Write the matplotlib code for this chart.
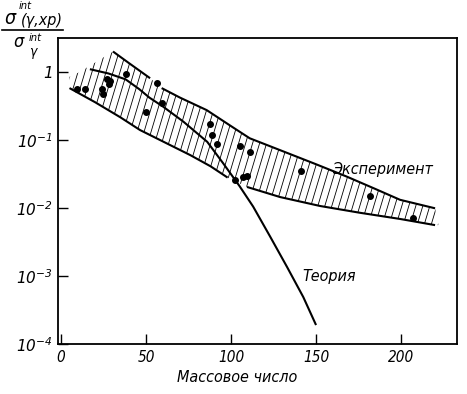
import numpy as np
import matplotlib
matplotlib.use("Agg")
import matplotlib.pyplot as plt
from matplotlib import font_manager
from matplotlib.collections import LineCollection
from matplotlib.lines import Line2D

# ---------------- data ----------------
theory_x = [17, 28, 38, 46, 52, 60, 72, 86, 95.5, 105, 113, 123, 133, 142.5, 150]
theory_y = [1.1, 0.95, 0.78, 0.56, 0.42, 0.31, 0.186, 0.094, 0.045, 0.021, 0.0105, 0.0038, 0.00135, 0.00049, 0.00019]

upper1_x = [30.6, 40, 52.4]
upper1_y = [2.0, 1.35, 0.81]
upper2_x = [59.2, 70, 85.7, 100, 111, 128.8, 150, 168, 185, 199.4, 220]
upper2_y = [0.58, 0.42, 0.275, 0.16, 0.106, 0.071, 0.044, 0.029, 0.019, 0.0132, 0.0099]

lower1_x = [5, 20, 35, 46.5, 60, 76, 88, 98]
lower1_y = [0.58, 0.36, 0.215, 0.14, 0.095, 0.06, 0.041, 0.028]
lower2_x = [109.4, 128.8, 152.4, 175.9, 199.4, 220]
lower2_y = [0.0204, 0.0145, 0.0107, 0.0085, 0.0069, 0.0056]

# left edge of hatched band above the upper line start
band_left_x = [5, 11]
band_left_y = [0.85, 1.0]

points_x = [9.2, 14.1, 23.9, 24.9, 26.9, 28.4, 28.8, 38.2, 50, 56.3, 59.2,
            87.6, 88.6, 92, 102.4, 105.3, 106.9, 109.6, 111.2, 141, 182, 207]
points_y = [0.56, 0.56, 0.56, 0.47, 0.78, 0.66, 0.74, 0.925, 0.26, 0.70, 0.35,
            0.172, 0.118, 0.087, 0.026, 0.082, 0.029, 0.030, 0.067, 0.035, 0.015, 0.0071]

xticks = [0, 50, 100, 150, 200]
xtick_labels = ["0", "50", "100", "150", "200"]
yticks = [1e-4, 1e-3, 1e-2, 1e-1, 1]
ytick_labels = [r"$10^{-4}$", r"$10^{-3}$", r"$10^{-2}$", r"$10^{-1}$", r"$1\;\;\;\;$"]

label_exp = "Эксперимент"
label_theory = "Теория"
xlabel = "Массовое число"

# ---------------- fonts ----------------
names = {f.name for f in font_manager.fontManager.ttflist}
if "Liberation Sans Narrow" in names:
    FONT = "Liberation Sans Narrow"
    STRETCH = "normal"
else:
    FONT = "DejaVu Sans"
    STRETCH = "condensed"
plt.rcParams["font.family"] = [FONT, "DejaVu Sans"]
plt.rcParams["font.style"] = "italic"
plt.rcParams["mathtext.fontset"] = "custom"
plt.rcParams["mathtext.rm"] = FONT + ":italic"
plt.rcParams["mathtext.it"] = FONT + ":italic"
plt.rcParams["mathtext.bf"] = FONT + ":italic"

W, H = 467, 394
fig = plt.figure(figsize=(W / 100, H / 100), dpi=100)
L, R, T, B = 58, 457, 38, 344
ax = fig.add_axes([L / W, 1 - B / H, (R - L) / W, (B - T) / H])
ax.set_yscale("log")
ax.set_xlim(-1.76, 232.9)
ax.set_ylim(1e-4, 10 ** 0.5)

for s in ax.spines.values():
    s.set_linewidth(1.3)

ax.set_xticks(xticks)
ax.set_xticklabels(xtick_labels)
ax.set_yticks(yticks)
ax.set_yticklabels(ytick_labels)
ax.minorticks_off()
ax.tick_params(direction="in", length=7.5, width=1.0, labelsize=11, pad=4)
for lab in ax.get_xticklabels() + ax.get_yticklabels():
    lab.set_fontstretch(STRETCH)

# ---------------- hatched band ----------------
poly_x = np.concatenate([band_left_x, upper1_x, upper2_x, [222],
                         lower2_x[::-1], lower1_x[::-1]])
poly_y = np.concatenate([band_left_y, upper1_y, upper2_y, [0.0056],
                         lower2_y[::-1], lower1_y[::-1]])
band = ax.fill(poly_x, poly_y, facecolor="none", edgecolor="none")[0]

axW, axH = R - L, B - T
slant = 0.30 * axH / axW
step = 7.0 / axW
segs = [[(x0, 0), (x0 + slant, 1)] for x0 in np.arange(-0.4, 1.05, step)]
lc = LineCollection(segs, colors="black", linewidths=0.6, transform=ax.transAxes)
ax.add_collection(lc)
lc.set_clip_path(band)

# ---------------- curves ----------------
lw = 1.5
for xs, ys in [(upper1_x, upper1_y), (upper2_x, upper2_y), (lower1_x, lower1_y),
               (lower2_x, lower2_y), (theory_x, theory_y)]:
    ax.plot(xs, ys, color="black", lw=lw, solid_capstyle="butt")
ax.plot(points_x, points_y, "o", color="black", ms=4.0, mec="black")

# ---------------- labels ----------------
ax.text(189, 0.037, label_exp, fontsize=11.5, fontstretch=STRETCH, ha="center", va="center")
ax.text(157.6, 0.001, label_theory, fontsize=11.5, fontstretch=STRETCH, ha="center", va="center")
fig.text(237 / W, 1 - 377 / H, xlabel, fontsize=11.5, fontstretch=STRETCH, ha="center", va="center")

# y-axis fraction label
def ft(x, y, s, size, **kw):
    fig.text(x / W, 1 - y / H, s, fontsize=size, fontstretch=STRETCH, **kw)

ft(4, 24, "σ", 14, ha="left", va="baseline")
ft(19, 9, "int", 8, ha="left", va="baseline")
ft(21, 25, "(γ,xp)", 11.5, ha="left", va="baseline")
fig.add_artist(Line2D([2 / W, 63 / W], [1 - 29.5 / H, 1 - 29.5 / H], color="black", lw=1.2,
                      transform=fig.transFigure))
ft(13, 47, "σ", 13, ha="left", va="baseline")
ft(29, 41, "int", 8, ha="left", va="baseline")
ft(29, 56, "γ", 10, ha="left", va="baseline")

fig.savefig("out.png", dpi=100)
